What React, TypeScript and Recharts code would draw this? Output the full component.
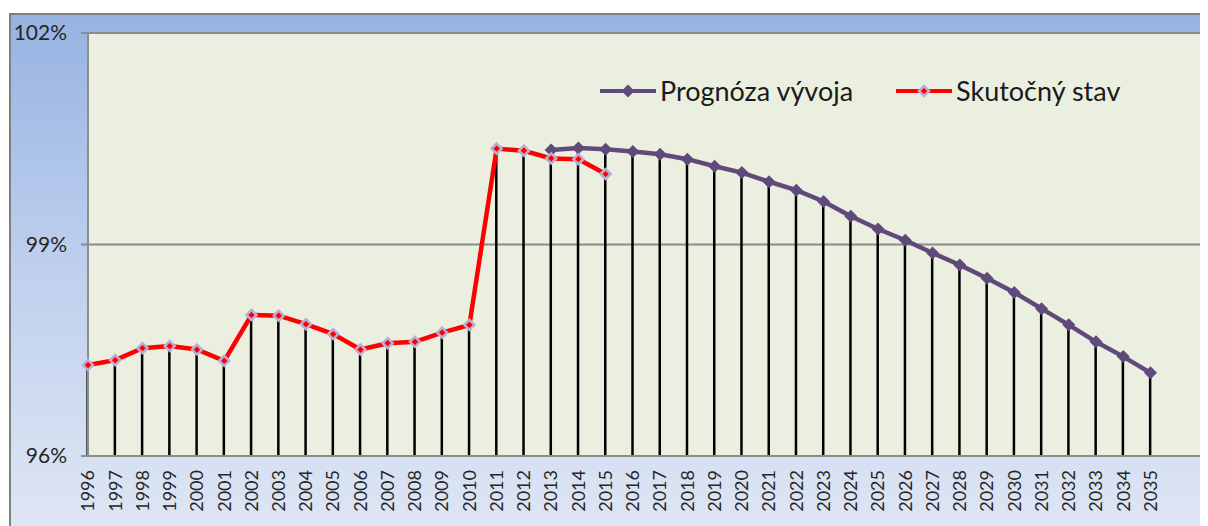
import { ComposedChart, Line, Bar, XAxis, YAxis, CartesianGrid } from 'recharts';

const years = [
  1996, 1997, 1998, 1999, 2000, 2001, 2002, 2003, 2004, 2005,
  2006, 2007, 2008, 2009, 2010, 2011, 2012, 2013, 2014, 2015,
  2016, 2017, 2018, 2019, 2020, 2021, 2022, 2023, 2024, 2025,
  2026, 2027, 2028, 2029, 2030, 2031, 2032, 2033, 2034, 2035,
];

// Skutočný stav, 1996–2015
const skutocnyStav = [
  97.29, 97.36, 97.53, 97.56, 97.51, 97.35, 98.0, 97.99, 97.87, 97.73,
  97.51, 97.6, 97.62, 97.75, 97.86, 100.36, 100.33, 100.22, 100.21, 100.0,
];

// Prognóza vývoja, 2013–2035
const prognozaStart = 2013;
const prognozaVyvoja = [
  100.34, 100.37, 100.35, 100.32, 100.28, 100.21, 100.11, 100.02, 99.89, 99.77,
  99.61, 99.4, 99.22, 99.06, 98.88, 98.71, 98.52, 98.32, 98.09, 97.86,
  97.62, 97.41, 97.18,
];

const yTicks = [96, 99, 102];

const data = years.map((year, i) => {
  const skut = i < skutocnyStav.length ? skutocnyStav[i] : null;
  const pi = year - prognozaStart;
  const prog = pi >= 0 && pi < prognozaVyvoja.length ? prognozaVyvoja[pi] : null;
  const vals = [skut, prog].filter((v) => v != null) as number[];
  return { year, skut, prog, drop: vals.length ? Math.max(...vals) : null };
});

const PURPLE = '#604A7B';
const RED = '#FF0000';
const LAVENDER = '#B9AED6';
const FONT = 'Lato, "Open Sans", sans-serif';

function diamond(cx: number, cy: number, r: number) {
  return `${cx},${cy - r} ${cx + r},${cy} ${cx},${cy + r} ${cx - r},${cy}`;
}

function PurpleDot(props: any) {
  const { cx, cy, value, index } = props;
  if (value == null || cx == null || cy == null) return <g key={`p${index}`} />;
  return <polygon key={`p${index}`} points={diamond(cx, cy, 6.5)} fill={PURPLE} />;
}

function RedDot(props: any) {
  const { cx, cy, value, index } = props;
  if (value == null || cx == null || cy == null) return <g key={`r${index}`} />;
  return (
    <polygon
      key={`r${index}`}
      points={diamond(cx, cy, 5)}
      fill={RED}
      stroke={LAVENDER}
      strokeWidth={2.5}
    />
  );
}

function YearTick(props: any) {
  const { x, y, payload } = props;
  return (
    <text
      x={x}
      y={y}
      dy="0.35em"
      textAnchor="end"
      transform={`rotate(-90, ${x}, ${y})`}
      fill="#262626"
      fontSize={18}
      fontFamily={FONT}
    >
      {payload.value}
    </text>
  );
}

function LegendItem({ label, color, red }: { label: string; color: string; red?: boolean }) {
  return (
    <div style={{ display: 'flex', alignItems: 'center' }}>
      <svg width={56} height={16}>
        <line x1={0} y1={8} x2={56} y2={8} stroke={color} strokeWidth={4} />
        {red ? (
          <polygon points={diamond(28, 8, 5)} fill={RED} stroke={LAVENDER} strokeWidth={2.5} />
        ) : (
          <polygon points={diamond(28, 8, 6.5)} fill={PURPLE} />
        )}
      </svg>
      <span style={{ marginLeft: 4, fontSize: 27, color: '#1a1a1a', fontFamily: FONT }}>{label}</span>
    </div>
  );
}

export default function App() {
  return (
    <div style={{ position: 'relative', width: 1200, height: 518, overflow: 'hidden' }}>
      <div
        style={{
          position: 'absolute',
          left: 1,
          top: 5,
          width: 1210,
          height: 530,
          boxSizing: 'border-box',
          border: '2px solid #7F7F7F',
          background: 'linear-gradient(to bottom, #97B3E2 0%, #C0D1EE 50%, #E0E7F4 100%)',
        }}
      >
        <div style={{ position: 'absolute', left: -2, top: -2 }}>
          <ComposedChart
            width={1200}
            height={512}
            data={data}
            margin={{ top: 20, right: 4, bottom: 9, left: 0 }}
          >
            <CartesianGrid
              horizontal
              vertical={false}
              fill="#EBEFDF"
              stroke="#8C8C8C"
              strokeWidth={2}
            />
            <XAxis
              dataKey="year"
              type="number"
              domain={[1996, 2037]}
              ticks={years}
              interval={0}
              height={60}
              tickLine={false}
              tickSize={0}
              tickMargin={14}
              axisLine={{ stroke: '#8C8C8C', strokeWidth: 2 }}
              tick={<YearTick />}
            />
            <YAxis
              domain={[96, 102]}
              ticks={yTicks}
              width={79}
              tickSize={7}
              tickMargin={14}
              tickFormatter={(v) => `${v}%`}
              axisLine={{ stroke: '#8C8C8C', strokeWidth: 2 }}
              tickLine={{ stroke: '#8C8C8C', strokeWidth: 2 }}
              tick={{ fill: '#262626', fontSize: 21, fontFamily: FONT }}
            />
            <Bar dataKey="drop" fill="#000" barSize={2.5} isAnimationActive={false} />
            <Line
              dataKey="prog"
              stroke={PURPLE}
              strokeWidth={4.5}
              dot={(p: any) => <PurpleDot {...p} />}
              activeDot={false}
              isAnimationActive={false}
            />
            <Line
              dataKey="skut"
              stroke={RED}
              strokeWidth={4.5}
              dot={(p: any) => <RedDot {...p} />}
              activeDot={false}
              isAnimationActive={false}
            />
          </ComposedChart>
        </div>
      </div>
      <div style={{ position: 'absolute', left: 592, top: 66, display: 'flex' }}>
        <div style={{ width: 296 }}>
          <LegendItem label="Prognóza vývoja" color={PURPLE} />
        </div>
        <LegendItem label="Skutočný stav" color={RED} red />
      </div>
    </div>
  );
}
